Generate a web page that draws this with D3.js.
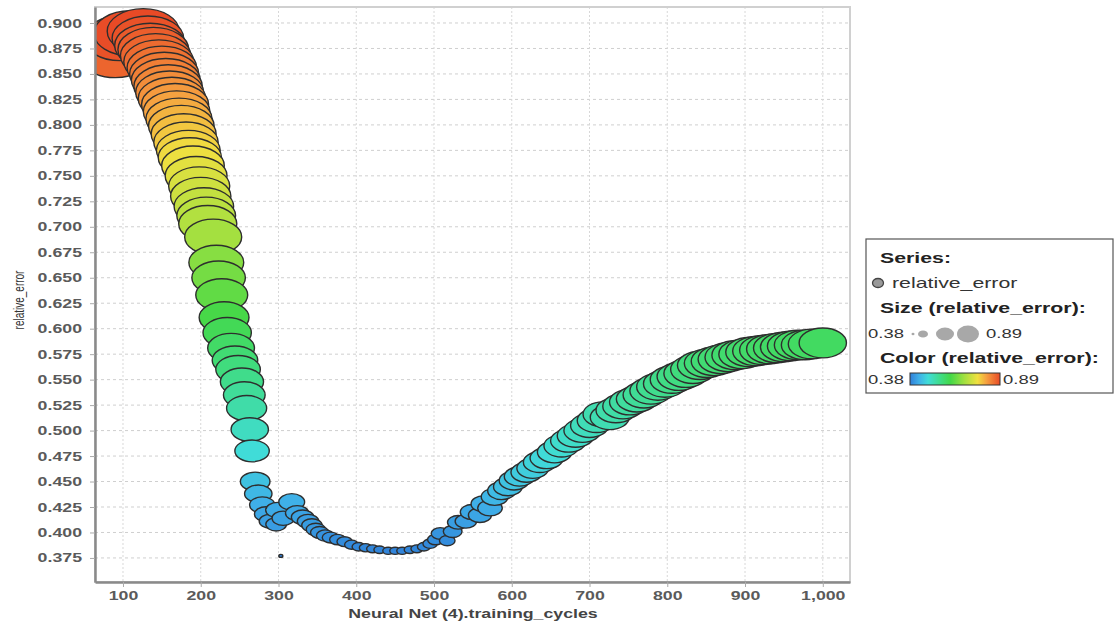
<!DOCTYPE html>
<html>
<head>
<meta charset="utf-8">
<script src="https://cdn.jsdelivr.net/npm/d3@7"></script>
<style>
  body { margin: 0; background: #fff; }
  svg { font-family: "Liberation Sans", Arial, sans-serif; }
</style>
</head>
<body>
<div id="chart"></div>
<script>
// Neural Net (4).training_cycles vs relative_error
const cycles = [
  81, 86, 90, 96, 109, 126, 132, 135, 139, 142, 146, 150, 153, 155, 158, 160, 163, 167, 169, 172,
  175, 178, 181, 184, 186, 190, 194, 198, 200, 204, 207, 209, 216, 220, 223, 227, 230, 234, 239, 244,
  248, 253, 256, 259, 263, 266,
  270, 274, 279, 284, 289, 297, 299, 303, 306, 317, 324, 331, 338, 343, 348, 353, 360, 367, 376, 385,
  394, 403, 412, 421, 430, 441, 450, 459, 469, 478, 487, 495,
  502, 508, 517, 524, 531, 541, 549, 559, 564, 572, 578, 587, 595, 603, 610, 619, 627, 636, 645, 655,
  664, 673, 682, 691, 700, 709, 717, 726, 734, 743, 752, 761, 770, 779, 788, 797, 806, 815, 824, 833,
  842, 851, 860, 869, 878, 887, 896, 905, 914, 923, 932, 941, 950, 959, 968, 977, 986, 1000
];
const relError = [
  0.878, 0.874, 0.868, 0.885, 0.890, 0.892, 0.885, 0.878, 0.874, 0.868, 0.862, 0.856, 0.850, 0.844, 0.838, 0.832, 0.826, 0.820, 0.813, 0.806,
  0.799, 0.791, 0.783, 0.775, 0.768, 0.760, 0.750, 0.740, 0.730, 0.720, 0.711, 0.703, 0.690, 0.665, 0.650, 0.633, 0.611, 0.596, 0.581, 0.569,
  0.560, 0.548, 0.535, 0.522, 0.501, 0.480,
  0.450, 0.438, 0.427, 0.418, 0.411, 0.408, 0.422, 0.377, 0.414, 0.430, 0.419, 0.415, 0.411, 0.407, 0.403, 0.400, 0.397, 0.395, 0.393, 0.391,
  0.388, 0.386, 0.385, 0.384, 0.383, 0.382, 0.382, 0.382, 0.383, 0.384, 0.386, 0.389,
  0.393, 0.399, 0.392, 0.401, 0.410, 0.411, 0.420, 0.417, 0.428, 0.424, 0.435, 0.441, 0.445, 0.451, 0.455, 0.459, 0.463, 0.469, 0.473, 0.479,
  0.485, 0.490, 0.495, 0.500, 0.505, 0.510, 0.516, 0.513, 0.520, 0.524, 0.528, 0.531, 0.535, 0.539, 0.543, 0.546, 0.550, 0.553, 0.556, 0.560,
  0.564, 0.566, 0.568, 0.570, 0.572, 0.574, 0.575, 0.577, 0.578, 0.579, 0.580, 0.581, 0.582, 0.583, 0.584, 0.584, 0.585, 0.586
];
const xTicks = [100, 200, 300, 400, 500, 600, 700, 800, 900, 1000];
const yTicks = [0.375, 0.400, 0.425, 0.450, 0.475, 0.500, 0.525, 0.550, 0.575, 0.600, 0.625, 0.650, 0.675,
  0.700, 0.725, 0.750, 0.775, 0.800, 0.825, 0.850, 0.875, 0.900];
const legendRange = ['0.38', '0.89'];
// colour ramp stops (fraction of the error range) and colours
const colorStops = [0, 0.1, 0.2, 0.35, 0.45, 0.6, 0.75, 0.85, 1];
const colorRange = ['#2f7fd8', '#3fb0e8', '#40dcd8', '#40dc80', '#44d848', '#a0e040', '#f0e040', '#f5a040', '#e84a26'];

const width = 1115;
const height = 626;
const SX = 1.42; // the picture is stretched horizontally, text follows
const plot = { left: 95, right: 850, top: 7, bottom: 582 };

const svg = d3.select('#chart').append('svg')
  .attr('width', width)
  .attr('height', height);

const x = d3.scaleLinear().domain([64, 1035]).range([plot.left, plot.right]);
const y = d3.scaleLinear().domain([0.3514, 0.9157]).range([plot.bottom, plot.top]);

const minE = d3.min(relError);
const maxE = d3.max(relError);
// bubble area grows with (error - min)
const size = d3.scaleSqrt().domain([0, maxE - minE]).range([0, 1]);
const color = d3.scaleLinear()
  .domain(colorStops.map(t => minE + t * (maxE - minE)))
  .range(colorRange);

const defs = svg.append('defs');
defs.append('clipPath').attr('id', 'plotclip')
  .append('rect')
  .attr('x', plot.left).attr('y', plot.top)
  .attr('width', plot.right - plot.left).attr('height', plot.bottom - plot.top);

// grid
const grid = svg.append('g').attr('class', 'grid');
grid.selectAll('.hgrid').data(yTicks).enter().append('line')
  .attr('x1', plot.left).attr('x2', plot.right)
  .attr('y1', d => y(d)).attr('y2', d => y(d))
  .attr('stroke', '#cfcfcf').attr('stroke-dasharray', '3,3');
grid.selectAll('.vgrid').data(xTicks).enter().append('line')
  .attr('y1', plot.top).attr('y2', plot.bottom)
  .attr('x1', d => x(d)).attr('x2', d => x(d))
  .attr('stroke', '#d8d8d8').attr('stroke-dasharray', '2,2');

// frame
svg.append('rect')
  .attr('x', plot.left).attr('y', plot.top)
  .attr('width', plot.right - plot.left).attr('height', plot.bottom - plot.top)
  .attr('fill', 'none').attr('stroke', '#d0d0d0').attr('stroke-width', 2);

// bubbles
const points = cycles.map((c, i) => ({ c: c, e: relError[i] }));
svg.append('g').attr('class', 'bubbles')
  .attr('clip-path', 'url(#plotclip)')
  .selectAll('ellipse')
  .data(points)
  .enter()
  .append('ellipse')
  .attr('cx', d => x(d.c))
  .attr('cy', d => y(d.e))
  .attr('rx', d => 2 + 34 * size(d.e - minE))
  .attr('ry', d => 1.5 + 21 * size(d.e - minE))
  .attr('fill', d => color(d.e))
  .attr('stroke', '#2e2e2e')
  .attr('stroke-width', 1.4);

// axes
const yAxis = svg.append('g')
  .attr('transform', `translate(${plot.left},0)`)
  .call(d3.axisLeft(y).tickValues(yTicks).tickSize(5).tickSizeOuter(0).tickFormat(d3.format('.3f')));
const xAxis = svg.append('g')
  .attr('transform', `translate(0,${plot.bottom})`)
  .call(d3.axisBottom(x).tickValues(xTicks).tickSize(5).tickSizeOuter(0).tickFormat(d3.format(',')));

[yAxis, xAxis].forEach(ax => {
  ax.select('.domain').attr('stroke', '#8a8a8a').attr('stroke-width', 2.5);
  ax.selectAll('.tick line').attr('stroke', '#aaa');
  ax.selectAll('.tick text')
    .attr('font-family', '"Liberation Sans", Arial, sans-serif')
    .attr('font-size', 12.5)
    .attr('font-weight', 'bold')
    .attr('fill', '#5a5a5a');
});
yAxis.selectAll('.tick text')
  .attr('x', -13 / SX)
  .attr('transform', `scale(${SX},1)`);
xAxis.selectAll('.tick text')
  .attr('y', 9)
  .attr('transform', `scale(${SX},1)`);

// axis titles
svg.append('text')
  .attr('transform', `translate(473,618) scale(${SX},1)`)
  .attr('text-anchor', 'middle')
  .attr('font-size', 12.5)
  .attr('font-weight', 'bold')
  .attr('fill', '#444')
  .text('Neural Net (4).training_cycles');

svg.append('text')
  .attr('transform', 'translate(24,300) rotate(-90) scale(1,1.4)')
  .attr('text-anchor', 'middle')
  .attr('font-size', 10)
  .attr('fill', '#333')
  .text('relative_error');

// legend
const legend = svg.append('g').attr('class', 'legend');
legend.append('rect')
  .attr('x', 866).attr('y', 239)
  .attr('width', 247).attr('height', 154)
  .attr('fill', '#fff').attr('stroke', '#555').attr('stroke-width', 1.2);

function legendText(tx, ty, txt, opts) {
  return legend.append('text')
    .attr('transform', `translate(${tx},${ty}) scale(${SX},1)`)
    .attr('font-size', opts.size)
    .attr('font-weight', opts.bold ? 'bold' : 'normal')
    .attr('fill', opts.fill || '#222')
    .text(txt);
}

legendText(880, 263, 'Series:', { size: 15, bold: true });
legend.append('ellipse')
  .attr('cx', 878).attr('cy', 283).attr('rx', 5.5).attr('ry', 4.5)
  .attr('fill', '#9a9a9a').attr('stroke', '#444').attr('stroke-width', 1.3);
legendText(892, 288, 'relative_error', { size: 15, fill: '#333' });

legendText(880, 313, 'Size (relative_error):', { size: 15, bold: true });
legendText(868, 338, legendRange[0], { size: 13, fill: '#333' });
const sizeDots = [[913, 1.5, 1.2], [923, 5, 3.6], [945, 9, 6.5], [968, 11, 8.5]];
legend.selectAll('.sizedot').data(sizeDots).enter().append('ellipse')
  .attr('cx', d => d[0]).attr('cy', 334)
  .attr('rx', d => d[1]).attr('ry', d => d[2])
  .attr('fill', '#a8a8a8');
legendText(986, 338, legendRange[1], { size: 13, fill: '#333' });

legendText(880, 363, 'Color (relative_error):', { size: 15, bold: true });
const grad = defs.append('linearGradient')
  .attr('id', 'errgrad').attr('x1', '0%').attr('x2', '100%');
grad.selectAll('stop').data(colorStops).enter().append('stop')
  .attr('offset', d => `${d * 100}%`)
  .attr('stop-color', (d, i) => colorRange[i]);
legendText(868, 384, legendRange[0], { size: 13, fill: '#333' });
legend.append('rect')
  .attr('x', 910).attr('y', 373).attr('width', 90).attr('height', 12)
  .attr('fill', 'url(#errgrad)').attr('stroke', '#333').attr('stroke-width', 1);
legendText(1003, 384, legendRange[1], { size: 13, fill: '#333' });
</script>
</body>
</html>
